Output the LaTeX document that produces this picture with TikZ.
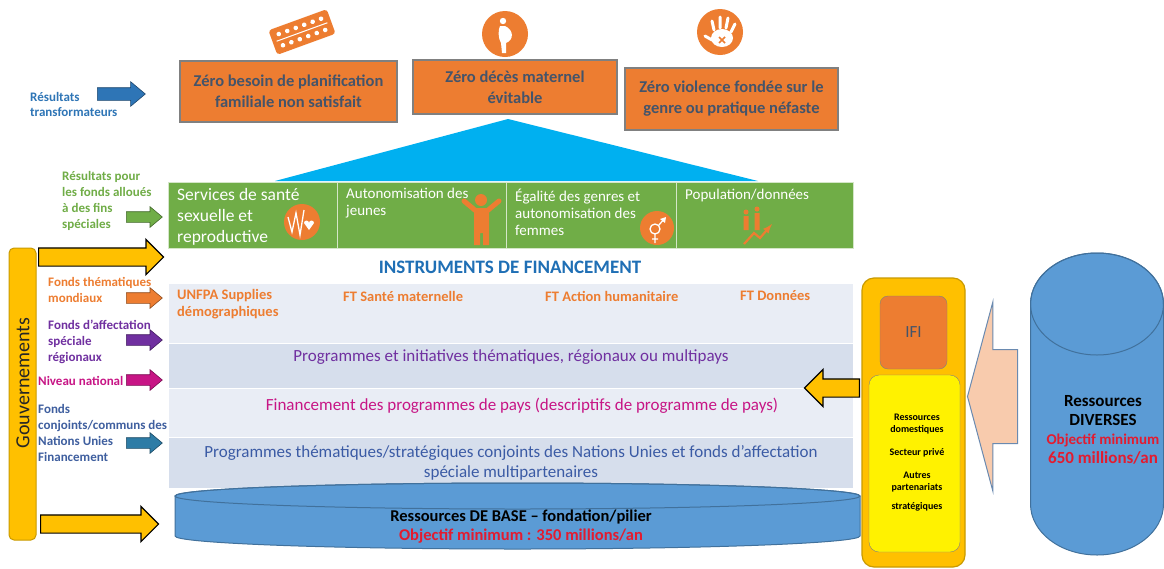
\documentclass[tikz,border=0pt]{standalone}
\usepackage{fontspec}
\setmainfont{Carlito}
\usepackage{tikz}
\usetikzlibrary{shapes.arrows}

\definecolor{boxorange}{HTML}{ED7D31}
\definecolor{boxtext}{HTML}{44546A}
\definecolor{roofblue}{HTML}{00B0F0}
\definecolor{cellgreen}{HTML}{70AD47}
\definecolor{bandlight}{HTML}{E9EDF5}
\definecolor{banddark}{HTML}{D6DEEC}
\definecolor{baseblue}{HTML}{5B9BD5}
\definecolor{baseedge}{HTML}{41719C}
\definecolor{goldyellow}{HTML}{FFC000}
\definecolor{goldedge}{HTML}{C99A00}
\definecolor{objred}{HTML}{E31B2F}
\definecolor{labblue}{HTML}{2E75B6}
\definecolor{labpurple}{HTML}{7030A0}
\definecolor{labmagenta}{HTML}{C71585}
\definecolor{fundtext}{HTML}{3F5F9F}
\definecolor{fundarrow}{HTML}{2E7CA6}
\definecolor{jointtext}{HTML}{3B5BA5}
\definecolor{instrblue}{HTML}{1F6FB5}
\definecolor{peach}{HTML}{F8CBAD}
\definecolor{peachedge}{HTML}{6A8AB0}
\definecolor{govtext}{HTML}{262626}

\begin{document}
\begin{tikzpicture}[x=1pt,y=-1pt,
  goal/.style={draw=gray, line width=1.2pt, fill=boxorange, rectangle, text=boxtext, font=\bfseries\fontsize{16.5}{21}\selectfont, align=center, inner sep=0pt},
  cell/.style={draw=white!70!cellgreen, line width=1pt, fill=cellgreen, rectangle, inner sep=0pt, anchor=north west, minimum height=66pt},
  celltext/.style={text=white, anchor=west, align=left, inner sep=0pt},
  band/.style={draw=white, line width=1pt, rectangle, inner sep=0pt, anchor=north west, minimum width=685pt},
  sidenote/.style={anchor=west, align=left, inner sep=0pt, font=\bfseries\fontsize{13}{16}\selectfont},
  flow/.style={single arrow, draw=#1!60!black, fill=#1, line width=.6pt, single arrow head extend=5pt, inner xsep=0pt, inner ysep=5pt, single arrow tip angle=80, minimum height=36pt, anchor=tail},
  bigflow/.style={single arrow, draw=black, fill=goldyellow, line width=1.2pt, single arrow head extend=8.5pt, inner xsep=0pt, inner ysep=8.5pt, single arrow tip angle=90, anchor=tail}]
\fill[white] (0,0) rectangle (1164,568);
\useasboundingbox (0,0) rectangle (1164,568);

% icons above the goals
\begin{scope}[shift={(302,32)}, rotate=20]
\fill[boxorange, rounded corners=3pt] (-31,-13) rectangle (31,13);
\fill[white] (-22.5,-6) circle (2.3pt) (-13.5,-6) circle (2.3pt) (-4.5,-6) circle (2.3pt) (4.5,-6) circle (2.3pt) (13.5,-6) circle (2.3pt) (22.5,-6) circle (2.3pt);
\fill[white] (-22.5,6) circle (2.3pt) (-13.5,6) circle (2.3pt) (-4.5,6) circle (2.3pt) (4.5,6) circle (2.3pt) (13.5,6) circle (2.3pt) (22.5,6) circle (2.3pt);
\draw[white, line width=1pt] (-27,0) -- (27,0);
\end{scope}
\fill[boxorange] (505,34) circle (23pt);
\fill[white] (503,21) circle (3.2pt);
\fill[white] (500,26) -- (505,26) .. controls (514,30) and (514,40) .. (506,43) -- (506,53) -- (502,53) -- (501,43) .. controls (498,38) and (498,30) .. (500,26) -- cycle;
\fill[boxorange] (720,32) circle (23pt);
\fill[white] (722,38) ellipse [x radius=11pt, y radius=9pt];
\draw[white, line width=3pt, line cap=round] (714,30) -- (712,21) (720,28) -- (720,17) (726,28) -- (728,18) (731,32) -- (735,24) (712,40) -- (705,36);
\draw[boxorange, line width=1.5pt] (719,37) -- (725,43) (725,37) -- (719,43);

% goals
\node[goal, minimum width=217pt, minimum height=61pt] (famplan) at (288.5,91.5) {Zéro besoin de planification\\familiale non satisfait};
\node[goal, minimum width=204pt, minimum height=54pt] (matdeath) at (515,87) {Zéro décès maternel\\évitable};
\node[goal, minimum width=213pt, minimum height=62pt] (violence) at (731.5,99) {Zéro violence fondée sur le\\genre ou pratique néfaste};
\fill[roofblue] (275,181) -- (508,119) -- (758,181) -- cycle;

% results row
\node[cell, minimum width=169pt] (srh) at (168,182) {};
\node[cell, minimum width=169pt] (youth) at (337,182) {};
\node[cell, minimum width=170pt] (gender) at (506,182) {};
\node[cell, minimum width=177pt] (popdata) at (676,182) {};
\node[celltext, font=\fontsize{17.5}{21}\selectfont] (srhtext) at (177,217) {Services de santé\\sexuelle et\\reproductive};
\node[celltext, font=\fontsize{15}{17}\selectfont] (youthtext) at (346,203.5) {Autonomisation des\\jeunes};
\node[celltext, font=\fontsize{15}{17}\selectfont] (gendertext) at (515,212) {Égalité des genres et\\autonomisation des\\femmes};
\node[celltext, font=\fontsize{15}{17}\selectfont] (popdatatext) at (685,195) {Population/données};
\fill[boxorange] (302,222) circle (18pt);
\draw[white, line width=1.3pt] (288,217) -- (292,232) -- (296,213) -- (300,235) -- (304,210);
\fill[white] (309,230) -- (304,223) arc[start angle=180, end angle=0, radius=2.5pt] arc[start angle=180, end angle=0, radius=2.5pt] -- cycle;
\fill[boxorange] (481,200) circle (6pt);
\fill[boxorange] (474,208) rectangle (489,233) (474,232) rectangle (480,245) (483,232) rectangle (489,245);
\draw[boxorange, line width=5pt, line cap=round] (476,211) -- (464,201) (487,211) -- (499,201);
\fill[boxorange] (657,228) circle (17pt);
\draw[white, line width=1.3pt] (655,229) circle (5pt) (659,225) -- (664,219) (655,234) -- (655,243) (652,239) -- (658,239);
\fill[white] (666,217) -- (665,223) -- (660,219) -- cycle;
\fill[boxorange] (746,212) circle (2.5pt) (757,209) circle (2.5pt) (743.5,216) rectangle (748.5,230) (754.5,213) rectangle (759.5,230);
\draw[boxorange, line width=2.2pt, -latex] (744,244) -- (754,233) -- (760,238) -- (772,224);

\node[text=instrblue, font=\bfseries\fontsize{19}{22}\selectfont] (instr) at (510,267) {INSTRUMENTS DE FINANCEMENT};

% financing bands
\node[band, fill=bandlight, minimum height=60pt] (global) at (168,283) {};
\node[band, fill=banddark, minimum height=45pt] (regional) at (168,343) {};
\node[band, fill=bandlight, minimum height=49pt] (country) at (168,388) {};
\node[band, fill=banddark, minimum height=51pt] (joint) at (168,437) {};
\node[sidenote, text=boxorange, font=\bfseries\fontsize{14.5}{17}\selectfont] (supplies) at (177,304.5) {UNFPA Supplies\\démographiques};
\node[sidenote, text=boxorange, font=\bfseries\fontsize{14.5}{17}\selectfont] (maternal) at (343,296) {FT Santé maternelle};
\node[sidenote, text=boxorange, font=\bfseries\fontsize{14.5}{17}\selectfont] (humanitarian) at (545,296) {FT Action humanitaire};
\node[sidenote, text=boxorange, font=\bfseries\fontsize{14.5}{17}\selectfont] (datafund) at (740,296) {FT Données};
\node[text=labpurple, font=\fontsize{17}{20}\selectfont] (regionaltext) at (511,357) {Programmes et initiatives thématiques, régionaux ou multipays};
\node[text=labmagenta, font=\fontsize{17}{20}\selectfont] (countrytext) at (522,406) {Financement des programmes de pays (descriptifs de programme de pays)};
\node[text=jointtext, font=\fontsize{17}{20}\selectfont, align=center] (jointtext) at (511,463) {Programmes thématiques/stratégiques conjoints des Nations Unies et fonds d’affectation\\spéciale multipartenaires};

% core resources
\draw[baseedge, line width=1pt, fill=baseblue] (175,496) -- (175,536) arc[start angle=180, end angle=360, x radius=342.5pt, y radius=13pt] -- (860,496) arc[start angle=0, end angle=180, x radius=342.5pt, y radius=13pt] -- cycle;
\draw[baseedge, line width=1pt] (517.5,496) ellipse [x radius=342.5pt, y radius=13pt];
\node[align=center, font=\bfseries\fontsize{16.5}{19}\selectfont] (basetext) at (521,526.5) {Ressources DE BASE – fondation/pilier\\\textcolor{objred}{Objectif minimum : 350 millions/an}};

% left side
\node[sidenote, text=labblue, font=\bfseries\fontsize{13}{15}\selectfont] (trans) at (30,104.5) {Résultats\\transformateurs};
\node[flow=labblue, minimum height=48pt, inner ysep=6pt, single arrow head extend=6pt] (transarrow) at (97,94) {};
\node[sidenote, text=cellgreen] (earmark) at (62,200.5) {Résultats pour\\les fonds alloués\\à des fins\\spéciales};
\node[flow=cellgreen] (earmarkarrow) at (126,217) {};
\node[draw=goldedge, line width=1pt, fill=goldyellow, rounded corners=5pt, minimum width=27pt, minimum height=292pt] (gov) at (22.5,394) {};
\node[rotate=90, font=\fontsize{20}{24}\selectfont, text=govtext] (govtext) at (23,383) {Gouvernements};
\node[bigflow, minimum height=125pt] (govtop) at (38,257) {};
\node[sidenote, text=boxorange] (thematic) at (48,290) {Fonds thématiques\\mondiaux};
\node[flow=boxorange] (thematicarrow) at (126,298) {};
\node[sidenote, text=labpurple] (regfund) at (48,342) {Fonds d’affectation\\spéciale\\régionaux};
\node[flow=labpurple] (regfundarrow) at (126,340) {};
\node[sidenote, text=labmagenta] (national) at (38,381) {Niveau national};
\node[flow=labmagenta] (nationalarrow) at (126,380) {};
\node[sidenote, text=fundtext] (unjoint) at (38,433) {Fonds\\conjoints/communs des\\Nations Unies\\Financement};
\node[flow=fundarrow] (unjointarrow) at (126,443) {};
\node[bigflow, minimum height=118pt] (govbase) at (40,524) {};

% right side
\node[draw=goldedge, line width=1.2pt, fill=goldyellow, rounded corners=12pt, minimum width=103pt, minimum height=289pt] (partners) at (913.5,422.5) {};
\node[draw=gray, fill=boxorange, rounded corners=8pt, minimum width=67pt, minimum height=73pt, font=\fontsize{17}{20}\selectfont, text=boxtext] (ifi) at (913.5,332.5) {IFI};
\node[draw=gray, fill=yellow, rounded corners=10pt, minimum width=91pt, minimum height=177pt] (others) at (914.5,463.5) {};
\node[align=center, font=\bfseries\fontsize{10}{12}\selectfont] (otherstext) at (917,462.5) {Ressources\\domestiques\\[11pt]Secteur privé\\[11pt]Autres\\partenariats\\[7pt]stratégiques};
\node[bigflow, shape border rotate=180, single arrow head extend=9.5pt, minimum height=55pt] (tocountry) at (860,388) {};
\node[single arrow, shape border rotate=180, draw=peachedge, fill=peach, line width=1pt, inner xsep=0pt, inner ysep=46.5pt, single arrow head extend=47.5pt, single arrow tip angle=150, minimum height=50pt, anchor=tail] (diverse) at (1018,396.5) {};
\draw[baseedge, line width=1pt, fill=baseblue] (1030.5,304) -- (1030.5,504) arc[start angle=180, end angle=360, x radius=66.5pt, y radius=51pt] -- (1163.5,304) arc[start angle=0, end angle=180, x radius=66.5pt, y radius=51pt] -- cycle;
\draw[baseedge, line width=1pt] (1097,304) ellipse [x radius=66.5pt, y radius=51pt];
\node[align=center, font=\bfseries\fontsize{17}{19}\selectfont] (divtext) at (1103,430) {Ressources\\DIVERSES\\\textcolor{objred}{\fontsize{15}{18}\selectfont Objectif minimum}\\\textcolor{objred}{650 millions/an}};
\end{tikzpicture}
\end{document}
